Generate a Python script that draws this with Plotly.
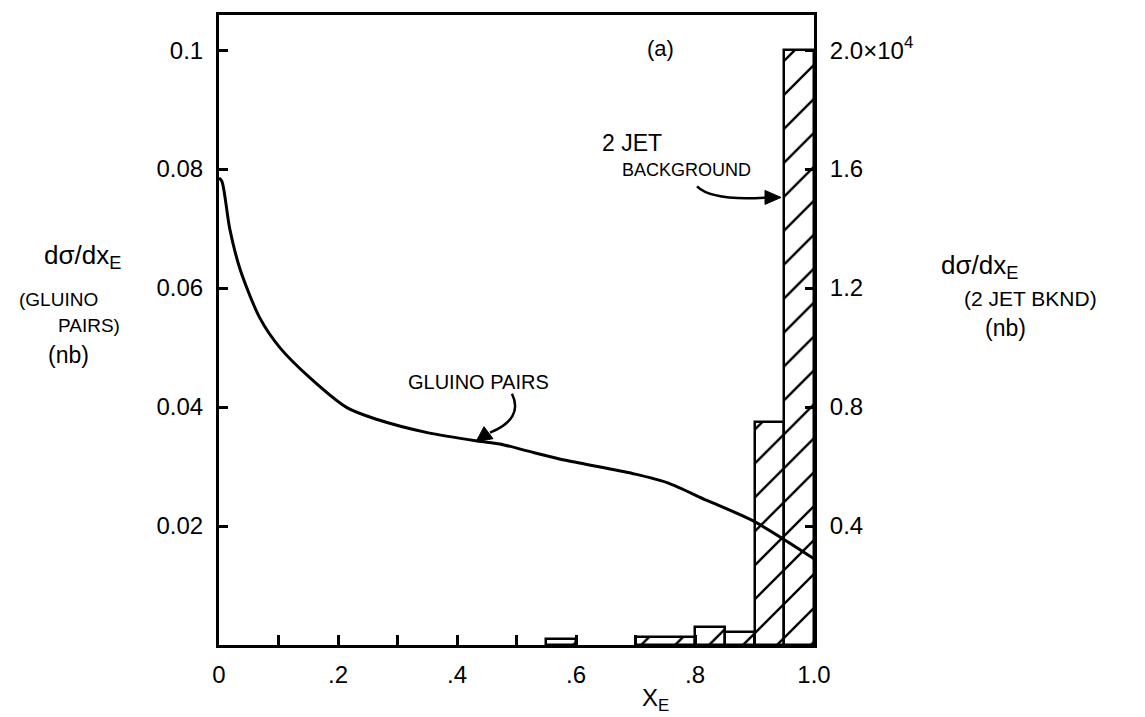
import plotly.graph_objects as go

# Gluino pair curve (left axis, nb)
xe_curve = [0.0, 0.005, 0.018, 0.035, 0.069, 0.103, 0.153, 0.215, 0.266, 0.35, 0.434,
            0.472, 0.523, 0.585, 0.696, 0.753, 0.82, 0.897, 1.0]
sig_gluino = [0.0785, 0.0779, 0.070, 0.0633, 0.0549, 0.0499, 0.0449, 0.0399, 0.0379, 0.0357, 0.0343,
              0.0338, 0.0325, 0.0310, 0.0288, 0.0273, 0.0243, 0.0209, 0.0145]

# 2-jet background histogram (right axis, nb)
bin_lo = [0.55, 0.70, 0.80, 0.85, 0.90, 0.95]
bin_hi = [0.60, 0.80, 0.85, 0.90, 0.95, 1.00]
sig_bkg = [200, 270, 600, 430, 7500, 20000]

x_tickvals = [0.0, 0.2, 0.4, 0.6, 0.8, 1.0]
x_ticktext = ["0", ".2", ".4", ".6", ".8", "1.0"]
yl_tickvals = [0.02, 0.04, 0.06, 0.08, 0.1]
yl_ticktext = ["0.02", "0.04", "0.06", "0.08", "0.1"]
yr_tickvals = [4000, 8000, 12000, 16000, 20000]
yr_ticktext = ["0.4", "0.8", "1.2", "1.6", "2.0×10<sup>4</sup>"]

Y_LEFT_MAX = 0.1059
Y_RIGHT_MAX = 21180
FONT = "Liberation Sans"

centers = [(a + b) / 2 for a, b in zip(bin_lo, bin_hi)]
widths = [b - a for a, b in zip(bin_lo, bin_hi)]

fig = go.Figure()
# bars on base axis 'y' (drawn on right side), curve on overlaying 'y2' (left side) so it is on top
fig.add_trace(go.Bar(
    x=centers, y=sig_bkg, width=widths, yaxis="y",
    marker=dict(color="white", line=dict(color="black", width=2.5),
                pattern=dict(shape="/", fgcolor="black", bgcolor="white", fgopacity=1,
                             size=24, solidity=0.1)),
    showlegend=False,
))
fig.add_trace(go.Scatter(
    x=xe_curve, y=sig_gluino, mode="lines", yaxis="y2",
    line=dict(color="black", width=3, shape="spline", smoothing=0.8),
    showlegend=False,
))

axis_common = dict(showline=True, linecolor="black", linewidth=3, ticks="inside",
                   tickcolor="black", tickwidth=2.5, showgrid=False, zeroline=False,
                   tickfont=dict(family=FONT, size=24, color="black"))

fig.update_layout(
    width=1145, height=717,
    margin=dict(l=219, r=331, t=13, b=72),
    paper_bgcolor="white", plot_bgcolor="white",
    bargap=0,
    xaxis=dict(range=[0, 1.0], tickvals=x_tickvals, ticktext=x_ticktext, ticklen=10,
               mirror=True, ticklabelstandoff=6,
               minor=dict(dtick=0.1, ticks="inside", ticklen=10, tickwidth=2.5, tickcolor="black"),
               **axis_common),
    yaxis=dict(range=[0, Y_RIGHT_MAX], tickvals=yr_tickvals, ticktext=yr_ticktext,
               side="right", ticklen=9, ticklabelstandoff=8, **axis_common),
    yaxis2=dict(range=[0, Y_LEFT_MAX], tickvals=yl_tickvals, ticktext=yl_ticktext,
                overlaying="y", side="left", ticklen=9, ticklabelstandoff=8,
                **axis_common),
)

def txt(x, y, s, size=22, xanchor="center"):
    fig.add_annotation(x=x, y=y, xref="paper", yref="paper", text=s, showarrow=False,
                       xanchor=xanchor, yanchor="middle",
                       font=dict(family=FONT, size=size, color="black"))

def pfx(px):
    return (px - 219) / (1145 - 219 - 331)
def pfy(py):
    return (645 - py) / (645 - 13)

# x-axis title
txt(pfx(655), pfy(700), "X<sub>E</sub>", size=24)

# left axis title
txt(pfx(82), pfy(255), "dσ/dx<sub>E</sub>", size=26)
txt(pfx(58), pfy(298), "(GLUINO", size=19)
txt(pfx(89), pfy(324), "PAIRS)", size=19)
txt(pfx(68), pfy(354), "(nb)", size=23)

# right axis title
txt(pfx(980), pfy(265), "dσ/dx<sub>E</sub>", size=26)
txt(pfx(1030), pfy(297), "(2 JET BKND)", size=21)
txt(pfx(1005), pfy(327), "(nb)", size=23)

# in-plot labels
txt(pfx(660), pfy(47), "(a)", size=22)
txt(pfx(632), pfy(141), "2 JET", size=23)
txt(pfx(686), pfy(168), "BACKGROUND", size=18)
txt(pfx(478), pfy(381), "GLUINO PAIRS", size=20)

# curved arrows drawn in pixel-mapped paper coordinates
def path_shape(d):
    fig.add_shape(type="path", xref="paper", yref="paper", path=d,
                  line=dict(color="black", width=2.5))

def head(tip, back1, back2):
    fig.add_shape(type="path", xref="paper", yref="paper",
                  path=(f"M {pfx(tip[0])} {pfy(tip[1])} L {pfx(back1[0])} {pfy(back1[1])} "
                        f"L {pfx(back2[0])} {pfy(back2[1])} Z"),
                  fillcolor="black", line=dict(color="black", width=1))

path_shape(f"M {pfx(697)} {pfy(185)} Q {pfx(712)} {pfy(200)} {pfx(768)} {pfy(196)}")
head((781, 196), (765, 189), (765, 203))

path_shape(f"M {pfx(512)} {pfy(393)} Q {pfx(524)} {pfy(418)} {pfx(490)} {pfy(432)}")
head((476, 441), (484, 426), (493, 438))

fig.write_html("out.html")
